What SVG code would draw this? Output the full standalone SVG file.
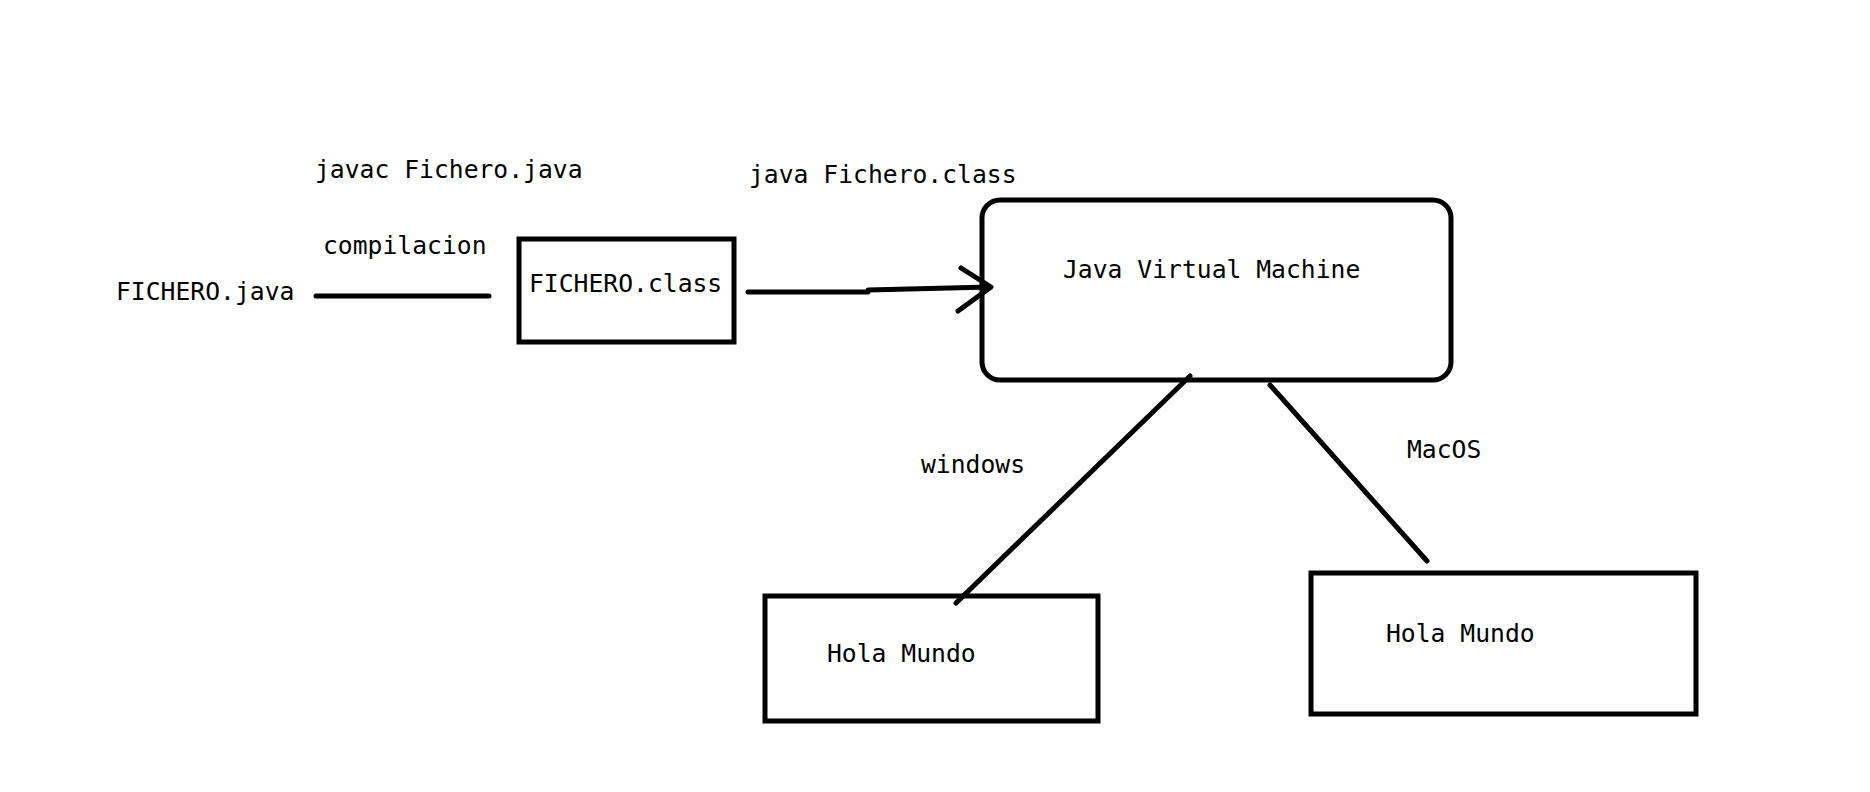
<svg xmlns="http://www.w3.org/2000/svg" width="1870" height="792" viewBox="0 0 1870 792">
<style>
text{font-family:"DejaVu Sans Mono","Liberation Mono",monospace;font-size:24.7px;fill:#000}
.box{fill:#fff;stroke:#000;stroke-width:5}
.ln{fill:none;stroke:#000;stroke-width:5;stroke-linecap:round;stroke-linejoin:round}
</style>
<rect width="1870" height="792" fill="#fff"/>
<g id="labels">
<text x="315" y="178">javac Fichero.java</text>
<text x="323" y="254">compilacion</text>
<text x="749" y="183">java Fichero.class</text>
<text x="921" y="473">windows</text>
<text x="1407" y="458">MacOS</text>
</g>
<g id="fichero-java"><text x="116" y="300">FICHERO.java</text></g>
<g id="fichero-class">
<rect class="box" x="519" y="239" width="215" height="103"/>
<text x="529" y="292">FICHERO.class</text>
</g>
<g id="jvm">
<rect class="box" x="982" y="200" width="469" height="180" rx="18" ry="18"/>
<text x="1063" y="278">Java Virtual Machine</text>
</g>
<g id="hola-windows">
<rect class="box" x="765" y="596" width="333" height="125"/>
<text x="827" y="662">Hola Mundo</text>
</g>
<g id="hola-macos">
<rect class="box" x="1311" y="573" width="385" height="141"/>
<text x="1386" y="642">Hola Mundo</text>
</g>
<g id="connectors">
<line class="ln" x1="316" y1="296" x2="489" y2="296"/>
<path class="ln" d="M748 292 L868 292 M868 290 L990 287"/>
<path class="ln" d="M961 268 L991 287 L958 311"/>
<line class="ln" x1="1190" y1="376" x2="956" y2="603"/>
<line class="ln" x1="1270" y1="385" x2="1427" y2="561"/>
</g>
</svg>
